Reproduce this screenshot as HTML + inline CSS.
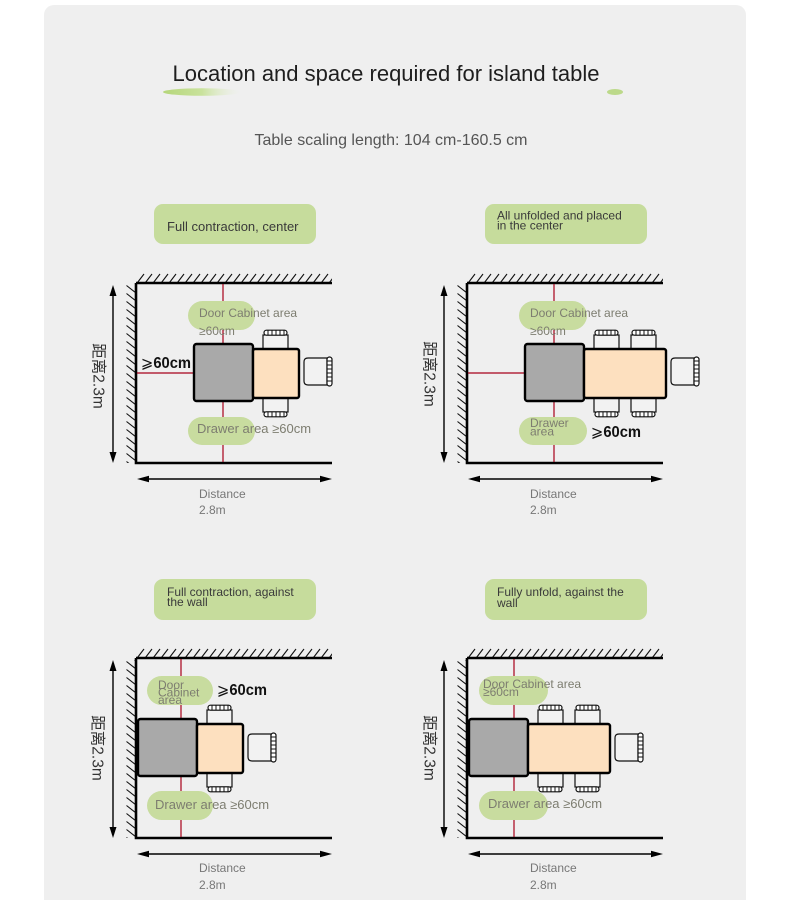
<!DOCTYPE html>
<html><head><meta charset="utf-8"><style>
html,body{margin:0;padding:0;background:#fff;}
svg{display:block;}
text{font-family:"Liberation Sans","Noto Sans CJK SC",sans-serif;}
</style></head><body>
<svg width="790" height="900" viewBox="0 0 790 900" xmlns="http://www.w3.org/2000/svg">
<defs>
<pattern id="ht1" patternUnits="userSpaceOnUse" x="137" y="273" width="8" height="10">
<line x1="0.5" y1="9.5" x2="7" y2="1" stroke="#111" stroke-width="1.1"/>
</pattern>
<pattern id="ht2" patternUnits="userSpaceOnUse" x="137" y="648" width="8" height="10">
<line x1="0.5" y1="9.5" x2="7" y2="1" stroke="#111" stroke-width="1.1"/>
</pattern>
<pattern id="ht3" patternUnits="userSpaceOnUse" x="468" y="273" width="8" height="10">
<line x1="0.5" y1="9.5" x2="7" y2="1" stroke="#111" stroke-width="1.1"/>
</pattern>
<pattern id="ht4" patternUnits="userSpaceOnUse" x="468" y="648" width="8" height="10">
<line x1="0.5" y1="9.5" x2="7" y2="1" stroke="#111" stroke-width="1.1"/>
</pattern>
<pattern id="hlA" patternUnits="userSpaceOnUse" x="126" y="285" width="10" height="8">
<line x1="0.5" y1="0.5" x2="9" y2="7.2" stroke="#111" stroke-width="1.1"/>
</pattern>
<pattern id="hlB" patternUnits="userSpaceOnUse" x="457" y="285" width="10" height="8">
<line x1="0.5" y1="0.5" x2="9" y2="7.2" stroke="#111" stroke-width="1.1"/>
</pattern>
<linearGradient id="br" x1="0" y1="0" x2="1" y2="0">
<stop offset="0" stop-color="#b5d67a"/>
<stop offset="0.5" stop-color="#c9e29c"/>
<stop offset="1" stop-color="#e8f0da" stop-opacity="0"/>
</linearGradient>
<g id="ct">
<rect x="0" y="5" width="25" height="15" fill="#f2f2f2" stroke="#111" stroke-width="1.2"/>
<rect x="1" y="0.2" width="23" height="5" rx="2.5" fill="#fff" stroke="#111" stroke-width="1.2"/>
<path d="M5,0.5V5M9,0.5V5M13,0.5V5M17,0.5V5M21,0.5V5" stroke="#111" stroke-width="1"/>
</g>
<g id="cr">
<path d="M23,0 H4 Q0,0 0,4 V23 Q0,27 4,27 H23 Z" fill="#f2f2f2" stroke="#111" stroke-width="1.2"/>
<rect x="23" y="-1" width="5" height="29" rx="2.5" fill="#fff" stroke="#111" stroke-width="1.2"/>
<path d="M23.5,3H28M23.5,7H28M23.5,11H28M23.5,15H28M23.5,19H28M23.5,23H28" stroke="#111" stroke-width="1"/>
</g>
</defs>

<rect x="44" y="5" width="702" height="905" rx="10" fill="#efefef"/>

<!-- Title -->
<text x="386" y="81" font-size="22" fill="#1e1e1e" text-anchor="middle" textLength="427" lengthAdjust="spacingAndGlyphs">Location and space required for island table</text>
<ellipse cx="202" cy="92" rx="39" ry="3.8" fill="url(#br)"/>
<ellipse cx="615" cy="92" rx="8" ry="3" fill="#bcd98a"/>
<text x="391" y="145" font-size="16" fill="#555" text-anchor="middle" textLength="273" lengthAdjust="spacingAndGlyphs">Table scaling length: 104 cm-160.5 cm</text>

<!-- ============ TOP LEFT ============ -->
<rect x="154" y="204" width="162" height="40" rx="9" fill="#c6dc9c"/>
<text x="167" y="231" font-size="13" fill="#3a3a3a">Full contraction, center</text>

<rect x="137" y="273" width="195" height="9" fill="url(#ht1)"/>
<rect x="126" y="285" width="9" height="178" fill="url(#hlA)"/>
<path d="M136,283 H332 M136,283 V463 H332" fill="none" stroke="#000" stroke-width="2.6"/>
<line x1="113" y1="292" x2="113" y2="456" stroke="#000" stroke-width="1.4"/>
<polygon points="113,285 109.5,296 116.5,296" fill="#000"/>
<polygon points="113,463 109.5,452 116.5,452" fill="#000"/>
<line x1="145" y1="479" x2="324" y2="479" stroke="#000" stroke-width="1.4"/>
<polygon points="137,479 149,475.8 149,482.2" fill="#000"/>
<polygon points="332,479 320,475.8 320,482.2" fill="#000"/>
<text transform="translate(98,376) rotate(90)" font-size="15.5" fill="#333" text-anchor="middle" dominant-baseline="central">距离2.3m</text>
<text x="199" y="498" font-size="12" fill="#777">Distance</text>
<text x="199" y="514" font-size="12" fill="#777">2.8m</text>

<line x1="223" y1="284" x2="223" y2="462" stroke="#a8001a" stroke-width="1.2"/>
<line x1="137" y1="373" x2="194" y2="373" stroke="#a8001a" stroke-width="1.2"/>
<rect x="188" y="301" width="67" height="29" rx="14.5" fill="#c8dc9f"/>
<rect x="188" y="417" width="67" height="28" rx="14" fill="#c8dc9f"/>
<use href="#ct" transform="translate(263,330)"/>
<use href="#ct" transform="translate(263,417) scale(1,-1)"/>
<use href="#cr" transform="translate(304,358)"/>
<rect x="194" y="344" width="59" height="57" rx="2.5" fill="#a9a9a9" stroke="#000" stroke-width="2.4"/>
<rect x="253" y="349" width="46" height="49" rx="2" fill="#fde0bf" stroke="#000" stroke-width="2.4"/>
<text x="199" y="317" font-size="12" fill="#7d7d70">Door Cabinet area</text>
<text x="199" y="335" font-size="12" fill="#7d7d70">≥60cm</text>
<text x="197" y="433" font-size="13" fill="#7d7d70">Drawer area ≥60cm</text>
<text x="141" y="368" font-size="16" font-weight="bold" fill="#111" textLength="50" lengthAdjust="spacingAndGlyphs"><tspan font-family="DejaVu Sans" font-weight="normal">⩾</tspan>60cm</text>

<!-- ============ TOP RIGHT ============ -->
<rect x="485" y="204" width="162" height="40" rx="9" fill="#c6dc9c"/>
<text x="497" y="219.5" font-size="12" fill="#3a3a3a">All unfolded and placed</text>
<text x="497" y="229.5" font-size="12" fill="#3a3a3a">in the center</text>

<rect x="468" y="273" width="195" height="9" fill="url(#ht3)"/>
<rect x="457" y="285" width="9" height="178" fill="url(#hlB)"/>
<path d="M467,283 H663 M467,283 V463 H663" fill="none" stroke="#000" stroke-width="2.6"/>
<line x1="444" y1="292" x2="444" y2="456" stroke="#000" stroke-width="1.4"/>
<polygon points="444,285 440.5,296 447.5,296" fill="#000"/>
<polygon points="444,463 440.5,452 447.5,452" fill="#000"/>
<line x1="476" y1="479" x2="655" y2="479" stroke="#000" stroke-width="1.4"/>
<polygon points="468,479 480,475.8 480,482.2" fill="#000"/>
<polygon points="663,479 651,475.8 651,482.2" fill="#000"/>
<text transform="translate(429,374) rotate(90)" font-size="15.5" fill="#333" text-anchor="middle" dominant-baseline="central">距离2.3m</text>
<text x="530" y="498" font-size="12" fill="#777">Distance</text>
<text x="530" y="514" font-size="12" fill="#777">2.8m</text>

<line x1="554" y1="284" x2="554" y2="462" stroke="#a8001a" stroke-width="1.2"/>
<line x1="468" y1="373" x2="525" y2="373" stroke="#a8001a" stroke-width="1.2"/>
<rect x="519" y="301" width="68" height="29" rx="14.5" fill="#c8dc9f"/>
<rect x="519" y="417" width="68" height="28" rx="14" fill="#c8dc9f"/>
<use href="#ct" transform="translate(594,330)"/>
<use href="#ct" transform="translate(631,330)"/>
<use href="#ct" transform="translate(594,417) scale(1,-1)"/>
<use href="#ct" transform="translate(631,417) scale(1,-1)"/>
<use href="#cr" transform="translate(671,358)"/>
<rect x="525" y="344" width="59" height="57" rx="2.5" fill="#a9a9a9" stroke="#000" stroke-width="2.4"/>
<rect x="584" y="349" width="82" height="49" rx="2" fill="#fde0bf" stroke="#000" stroke-width="2.4"/>
<text x="530" y="317" font-size="12" fill="#7d7d70">Door Cabinet area</text>
<text x="530" y="335" font-size="12" fill="#7d7d70">≥60cm</text>
<text x="530" y="427" font-size="12" fill="#7d7d70">Drawer</text>
<text x="530" y="435.5" font-size="12" fill="#7d7d70">area</text>
<text x="591" y="437" font-size="16" font-weight="bold" fill="#111" textLength="50" lengthAdjust="spacingAndGlyphs"><tspan font-family="DejaVu Sans" font-weight="normal">⩾</tspan>60cm</text>

<!-- ============ BOTTOM LEFT ============ -->
<rect x="154" y="579" width="162" height="41" rx="9" fill="#c6dc9c"/>
<text x="167" y="596" font-size="12" fill="#3a3a3a">Full contraction, against</text>
<text x="167" y="606" font-size="12" fill="#3a3a3a">the wall</text>

<rect x="137" y="648" width="195" height="9" fill="url(#ht2)"/>
<rect x="126" y="660" width="9" height="178" fill="url(#hlA)"/>
<path d="M136,658 H332 M136,658 V838 H332" fill="none" stroke="#000" stroke-width="2.6"/>
<line x1="113" y1="667" x2="113" y2="831" stroke="#000" stroke-width="1.4"/>
<polygon points="113,660 109.5,671 116.5,671" fill="#000"/>
<polygon points="113,838 109.5,827 116.5,827" fill="#000"/>
<line x1="145" y1="854" x2="324" y2="854" stroke="#000" stroke-width="1.4"/>
<polygon points="137,854 149,850.8 149,857.2" fill="#000"/>
<polygon points="332,854 320,850.8 320,857.2" fill="#000"/>
<text transform="translate(97,748) rotate(90)" font-size="15.5" fill="#333" text-anchor="middle" dominant-baseline="central">距离2.3m</text>
<text x="199" y="872" font-size="12" fill="#777">Distance</text>
<text x="199" y="889" font-size="12" fill="#777">2.8m</text>

<line x1="181" y1="659" x2="181" y2="837" stroke="#a8001a" stroke-width="1.2"/>
<rect x="147" y="676" width="66" height="29" rx="14.5" fill="#c8dc9f"/>
<rect x="147" y="791" width="66" height="29" rx="14.5" fill="#c8dc9f"/>
<use href="#ct" transform="translate(207,705)"/>
<use href="#ct" transform="translate(207,792) scale(1,-1)"/>
<use href="#cr" transform="translate(248,734)"/>
<rect x="138" y="719" width="59" height="57" rx="2.5" fill="#a9a9a9" stroke="#000" stroke-width="2.4"/>
<rect x="197" y="724" width="46" height="49" rx="2" fill="#fde0bf" stroke="#000" stroke-width="2.4"/>
<text x="158" y="689" font-size="12" fill="#7d7d70">Door</text>
<text x="158" y="696.5" font-size="12" fill="#7d7d70">Cabinet</text>
<text x="158" y="704" font-size="12" fill="#7d7d70">area</text>
<text x="155" y="809" font-size="13" fill="#7d7d70">Drawer area ≥60cm</text>
<text x="217" y="695" font-size="16" font-weight="bold" fill="#111" textLength="50" lengthAdjust="spacingAndGlyphs"><tspan font-family="DejaVu Sans" font-weight="normal">⩾</tspan>60cm</text>

<!-- ============ BOTTOM RIGHT ============ -->
<rect x="485" y="579" width="162" height="41" rx="9" fill="#c6dc9c"/>
<text x="497" y="596" font-size="12" fill="#3a3a3a">Fully unfold, against the</text>
<text x="497" y="607" font-size="12" fill="#3a3a3a">wall</text>

<rect x="468" y="648" width="195" height="9" fill="url(#ht4)"/>
<rect x="457" y="660" width="9" height="178" fill="url(#hlB)"/>
<path d="M467,658 H663 M467,658 V838 H663" fill="none" stroke="#000" stroke-width="2.6"/>
<line x1="444" y1="667" x2="444" y2="831" stroke="#000" stroke-width="1.4"/>
<polygon points="444,660 440.5,671 447.5,671" fill="#000"/>
<polygon points="444,838 440.5,827 447.5,827" fill="#000"/>
<line x1="476" y1="854" x2="655" y2="854" stroke="#000" stroke-width="1.4"/>
<polygon points="468,854 480,850.8 480,857.2" fill="#000"/>
<polygon points="663,854 651,850.8 651,857.2" fill="#000"/>
<text transform="translate(429,748) rotate(90)" font-size="15.5" fill="#333" text-anchor="middle" dominant-baseline="central">距离2.3m</text>
<text x="530" y="872" font-size="12" fill="#777">Distance</text>
<text x="530" y="889" font-size="12" fill="#777">2.8m</text>

<line x1="514" y1="659" x2="514" y2="837" stroke="#a8001a" stroke-width="1.2"/>
<rect x="479" y="676" width="69" height="29" rx="14.5" fill="#c8dc9f"/>
<rect x="479" y="791" width="69" height="29" rx="14.5" fill="#c8dc9f"/>
<use href="#ct" transform="translate(538,705)"/>
<use href="#ct" transform="translate(575,705)"/>
<use href="#ct" transform="translate(538,792) scale(1,-1)"/>
<use href="#ct" transform="translate(575,792) scale(1,-1)"/>
<use href="#cr" transform="translate(615,734)"/>
<rect x="469" y="719" width="59" height="57" rx="2.5" fill="#a9a9a9" stroke="#000" stroke-width="2.4"/>
<rect x="528" y="724" width="82" height="49" rx="2" fill="#fde0bf" stroke="#000" stroke-width="2.4"/>
<text x="483" y="688" font-size="12" fill="#7d7d70">Door Cabinet area</text>
<text x="483" y="696" font-size="12" fill="#7d7d70">≥60cm</text>
<text x="488" y="808" font-size="13" fill="#7d7d70">Drawer area ≥60cm</text>
</svg>
</body></html>
